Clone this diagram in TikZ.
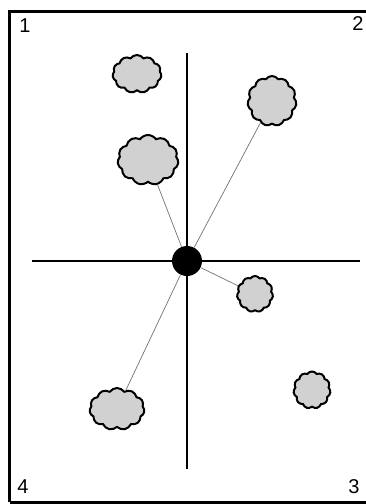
\documentclass[tikz,border=0pt]{standalone}
\usepackage{fontspec}
\setmainfont{Liberation Sans}
\usetikzlibrary{shapes.symbols}
\begin{document}
\begin{tikzpicture}[x=1pt,y=-1pt,
  blob/.style={cloud, cloud puffs=11, cloud puff arc=110, cloud ignores aspect,
    draw=black, line width=2pt, fill=black!18, inner sep=0pt},
  axis/.style={line width=2pt, black},
  link/.style={line width=0.7pt, black!55},
  lbl/.style={font=\fontsize{20}{20}\selectfont, inner sep=0pt}]
\useasboundingbox (0,0) rectangle (366,504);
\fill[white] (0,0) rectangle (366,504);
\draw[line width=3pt] (9.5,502) -- (9.5,11) -- (372,11);
\draw[line width=3pt] (9.5,502) -- (372,502);
\coordinate (vt) at (187,53);
\coordinate (vb) at (187,469);
\coordinate (hl) at (32,261);
\coordinate (hr) at (360,261);
\draw[axis] (vt) -- (vb);
\draw[axis] (hl) -- (hr);
\node[blob, minimum width=49pt, minimum height=38pt] (c1) at (137,74) {};
\node[blob, minimum width=49pt, minimum height=50pt] (c2) at (272,101) {};
\node[blob, minimum width=61pt, minimum height=50pt] (c3) at (148,160) {};
\node[blob, minimum width=36pt, minimum height=36pt] (c4) at (255,294) {};
\node[blob, minimum width=37pt, minimum height=37pt] (c5) at (312,390) {};
\node[blob, minimum width=55pt, minimum height=42pt] (c6) at (117,409) {};
\node[circle, fill=black, minimum size=30pt, inner sep=0pt] (hub) at (187,261) {};
\draw[link] (hub) -- (c2);
\draw[link] (hub) -- (c3);
\draw[link] (hub) -- (c4);
\draw[link] (hub) -- (c6);
\node[lbl] (n1) at (25,26) {1};
\node[lbl] (n2) at (358,24) {2};
\node[lbl] (n3) at (354,487) {3};
\node[lbl] (n4) at (23,487) {4};
\end{tikzpicture}
\end{document}
